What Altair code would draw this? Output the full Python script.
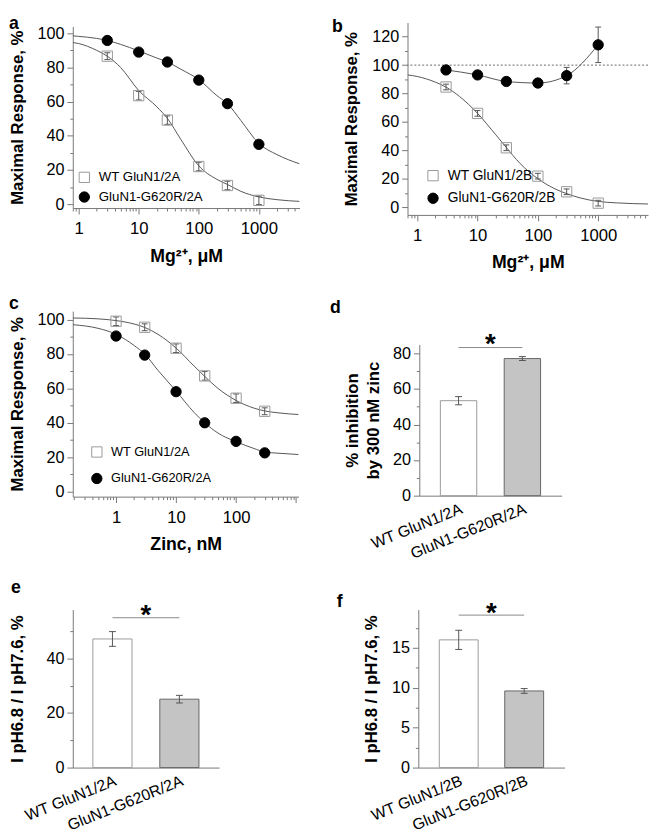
import altair as alt
import pandas as pd

FONT = "Liberation Sans"
AXIS_C = "#777777"
LINE_C = "#555555"

# ---------------- panel a : Mg2+, GluN1/2A ----------------
a_conc = [3, 10, 30, 100, 300, 1000]
a_wt = [86.6, 63.5, 49.2, 22.0, 10.9, 2.2]
a_wt_err = [2.0, 2.5, 2.5, 2.5, 2.5, 2.5]
a_mut = [95.8, 89.0, 83.2, 72.6, 58.8, 35.0]
a_mut_err = [1.0, 1.0, 1.0, 1.5, 1.5, 1.5]
a_fit_x = [0.8, 1, 2, 3, 5, 10, 20, 30, 50, 100, 200, 300, 500, 1000, 2000, 4750]
a_wt_fit = [94.6, 94.0, 90.0, 86.6, 80.0, 66.5, 57.0, 50.2, 38.0, 22.4, 14.5, 11.5, 7.5, 4.2, 2.6, 1.6]
a_mut_fit = [98.5, 98.2, 97.0, 95.8, 93.5, 89.7, 85.5, 83.2, 79.0, 72.9, 63.5, 58.8, 49.0, 35.5, 29.0, 23.6]
a_labels = ["WT GluN1/2A", "GluN1-G620R/2A"]

# ---------------- panel b : Mg2+, GluN1/2B ----------------
b_conc = [3, 10, 30, 100, 300, 1000]
b_wt = [84.6, 66.0, 41.8, 21.8, 10.8, 2.8]
b_wt_err = [2.0, 2.0, 2.0, 2.0, 2.0, 2.0]
b_mut = [96.6, 93.1, 88.5, 87.4, 92.6, 114.3]
b_mut_err = [1.5, 1.5, 1.5, 1.5, 5.8, 12.5]
b_fit_x = [0.69, 1, 2, 3, 5, 10, 20, 30, 50, 100, 200, 300, 500, 1000, 2000, 6700]
b_wt_fit = [93.1, 92.0, 88.0, 84.5, 78.0, 66.0, 51.0, 42.0, 31.0, 20.0, 12.5, 9.5, 6.5, 4.0, 3.0, 2.2]
b_ref = [100]
b_labels = ["WT GluN1/2B", "GluN1-G620R/2B"]

# ---------------- panel c : zinc, GluN1/2A ----------------
c_conc = [1, 3, 10, 30, 100, 300]
c_wt = [99.1, 95.6, 83.4, 67.3, 54.3, 46.7]
c_wt_err = [2.5, 2.0, 2.5, 2.5, 2.5, 2.0]
c_mut = [90.5, 79.4, 58.1, 40.0, 29.2, 22.5]
c_mut_err = [1.0, 1.0, 1.0, 1.0, 1.0, 1.0]
c_fit_x = [0.19, 0.5, 1, 2, 3, 5, 10, 20, 30, 50, 100, 200, 300, 500, 1100]
c_wt_fit = [101.0, 100.5, 99.5, 97.5, 95.5, 91.5, 83.5, 73.0, 67.0, 60.0, 53.0, 48.5, 46.9, 45.8, 44.8]
c_mut_fit = [97.1, 95.0, 91.5, 85.0, 80.0, 70.5, 58.5, 46.0, 40.0, 34.0, 29.0, 25.0, 23.0, 22.3, 21.5]
c_labels = ["WT GluN1/2A", "GluN1-G620R/2A"]

# ---------------- bar panels ----------------
d_cats = ["WT GluN1/2A", "GluN1-G620R/2A"]
d_vals = [53.4, 77.1]
d_errs = [2.3, 1.1]
d_sig = [83.3]
d_star = [80.5]

e_cats = ["WT GluN1/2A", "GluN1-G620R/2A"]
e_vals = [47.2, 25.1]
e_errs = [2.7, 1.4]
e_sig = [55.0]
e_star = [52.8]

f_cats = ["WT GluN1/2B", "GluN1-G620R/2B"]
f_vals = [16.0, 9.6]
f_errs = [1.2, 0.3]
f_sig = [19.1]
f_star = [18.3]

# ---------------- tick values ----------------
xmaj_a = [1, 10, 100, 1000]
xmin_a = [0.8, 0.9, 2, 3, 4, 5, 6, 7, 8, 9, 20, 30, 40, 50, 60, 70, 80, 90,
          200, 300, 400, 500, 600, 700, 800, 900, 2000, 3000, 4000]
xmaj_b = [1, 10, 100, 1000]
xmin_b = [0.7, 0.8, 0.9, 2, 3, 4, 5, 6, 7, 8, 9, 20, 30, 40, 50, 60, 70, 80, 90,
          200, 300, 400, 500, 600, 700, 800, 900, 2000, 3000, 4000, 5000, 6000]
xmaj_c = [1, 10, 100, 1000]
xmin_c = [0.2, 0.3, 0.4, 0.5, 0.6, 0.7, 0.8, 0.9, 2, 3, 4, 5, 6, 7, 8, 9, 20, 30, 40,
          50, 60, 70, 80, 90, 200, 300, 400, 500, 600, 700, 800, 900]
xlab_ab = [1, 10, 100, 1000]
xlab_c = [1, 10, 100]
ymaj_100 = [0, 20, 40, 60, 80, 100]
ymin_100 = [10, 30, 50, 70, 90]
ymaj_b = [0, 20, 40, 60, 80, 100, 120]
ymin_b = [10, 30, 50, 70, 90, 110]
ymaj_d = [0, 20, 40, 60, 80]
ymin_d = [10, 30, 50, 70]
ymaj_e = [0, 20, 40]
ymin_e = [10, 30, 50]
ymaj_f = [0, 5, 10, 15]
ymin_f = [2.5, 7.5, 12.5, 17.5]


def letter_title(txt, dx, dy):
    return alt.TitleParams(text=txt, anchor="start", frame="group", dx=dx, dy=dy, offset=0,
                           baseline="alphabetic", font=FONT, fontSize=18, fontWeight="bold",
                           color="black")


def y_major(values, title, title_pad=11):
    return alt.Axis(values=values, orient="left", tickSize=6, title=title, grid=False,
                    domainColor=AXIS_C, tickColor=AXIS_C,
                    labelFont=FONT, labelFontSize=16.5, labelColor="black", labelPadding=3,
                    titleFont=FONT, titleFontSize=17, titleFontWeight="bold", titleColor="black",
                    titlePadding=title_pad, titleLineHeight=22, labelOverlap=False, labelFlush=False)


def y_minor(values):
    return alt.Axis(values=values, orient="left", tickSize=3, labels=False, domain=False, title=None,
                    grid=False, tickColor=AXIS_C)


def x_major(values, labeled, title):
    return alt.Axis(values=values, orient="bottom",
                    labelExpr=f"indexof({labeled}, datum.value) >= 0 ? format(datum.value, 'd') : ''",
                    tickSize=6, title=title, grid=False, domainColor=AXIS_C, tickColor=AXIS_C,
                    labelFont=FONT, labelFontSize=17, labelColor="black", labelPadding=7,
                    titleFont=FONT, titleFontSize=18, titleFontWeight="bold", titleColor="black",
                    titlePadding=11, labelOverlap=False, labelFlush=False)


def x_minor(values):
    return alt.Axis(values=values, orient="bottom", tickSize=3, labels=False, domain=False, title=None,
                    grid=False, tickColor=AXIS_C)


def spacer():
    return alt.Chart(pd.DataFrame({"s": [0]})).mark_point(size=0, opacity=0).encode(
        x=alt.value(0), y=alt.value(0)).properties(width=1, height=1)


def curve_panel(conc, wt, wt_err, mut, mut_err, fit_x, wt_fit, mut_fit, labels,
                xdom, ydom, xmaj, xmin, xlab, ymaj, ymin, xtitle, w, h, leg_x, leg_y, leg_row,
                leg_fs, title=None, ref=None):
    n = len(conc)
    pts = pd.DataFrame({"x": conc + conc, "y": wt + mut, "err": wt_err + mut_err,
                        "series": [labels[0]] * n + [labels[1]] * n})
    pts["lo"] = pts["y"] - pts["err"]
    pts["hi"] = pts["y"] + pts["err"]
    caps = pd.concat([pts[["x", "lo"]].rename(columns={"lo": "v"}),
                      pts[["x", "hi"]].rename(columns={"hi": "v"})])
    fit_wt = pd.DataFrame({"x": fit_x, "y": wt_fit, "series": labels[0]})
    if mut_fit is None:
        fit_mut = pd.DataFrame({"x": conc, "y": mut, "series": labels[1]})
    else:
        fit_mut = pd.DataFrame({"x": fit_x, "y": mut_fit, "series": labels[1]})
    fit = pd.concat([fit_wt, fit_mut])

    xs = alt.Scale(type="log", domain=xdom, nice=False)
    ys = alt.Scale(domain=ydom, nice=False, zero=False)

    line = alt.Chart(fit).mark_line(interpolate="monotone", color=LINE_C, strokeWidth=1, clip=True).encode(
        x=alt.X("x:Q", scale=xs, axis=x_major(xmaj, xlab, xtitle)),
        y=alt.Y("y:Q", scale=ys, axis=y_major(ymaj, "Maximal Response, %")),
        detail="series:N")
    rules = alt.Chart(pts).mark_rule(color=LINE_C, strokeWidth=1).encode(
        x=alt.X("x:Q", scale=xs, axis=x_minor(xmin)),
        y=alt.Y("lo:Q", scale=ys, axis=y_minor(ymin)), y2="hi:Q")
    capm = alt.Chart(caps).mark_point(shape="M-1,0L1,0", size=36, stroke=LINE_C, strokeWidth=1,
                                      filled=False, opacity=1).encode(
        x=alt.X("x:Q", scale=xs, axis=None),
        y=alt.Y("v:Q", scale=ys, axis=None))
    leg = alt.Legend(title=None, orient="none", legendX=leg_x, legendY=leg_y, labelFont=FONT,
                     labelFontSize=leg_fs, labelColor="black", symbolSize=110, symbolStrokeWidth=1,
                     rowPadding=leg_row, labelOffset=8, padding=0, labelLimit=0)
    points = alt.Chart(pts).mark_point(size=110, strokeWidth=1, opacity=1).encode(
        x=alt.X("x:Q", scale=xs, axis=None),
        y=alt.Y("y:Q", scale=ys, axis=None),
        shape=alt.Shape("series:N", scale=alt.Scale(domain=labels, range=["square", "circle"]), legend=leg),
        fill=alt.Fill("series:N", scale=alt.Scale(domain=labels, range=["transparent", "black"]), legend=leg),
        stroke=alt.Stroke("series:N", scale=alt.Scale(domain=labels, range=["#999999", "black"]), legend=leg))
    layers = [line, rules]
    if ref is not None:
        layers.append(alt.Chart(pd.DataFrame({"r": ref})).mark_rule(
            color="#666666", strokeWidth=1, strokeDash=[2, 2]).encode(
            y=alt.Y("r:Q", scale=ys, axis=None)))
    layers += [capm, points]
    ch = alt.layer(*layers).resolve_axis(x="independent", y="independent").properties(width=w, height=h)
    if title is not None:
        ch = ch.properties(title=title)
    return ch


def bar_panel(cats, vals, errs, sig, star, ydom, ymaj, ymin, ytitle, w, h, pi, po, title_pad,
              title=None):
    df = pd.DataFrame({"cat": cats, "val": vals, "err": errs})
    df["lo"] = df["val"] - df["err"]
    df["hi"] = df["val"] + df["err"]
    caps = pd.concat([df[["cat", "lo"]].rename(columns={"lo": "v"}),
                      df[["cat", "hi"]].rename(columns={"hi": "v"})])
    sig_df = pd.DataFrame({"cat": cats, "y": sig * 2})
    star_df = pd.DataFrame({"pos": [0.5], "y": star, "t": ["*"]})

    def xs():
        return alt.Scale(type="band", domain=cats, paddingInner=pi, paddingOuter=po)

    ys = alt.Scale(domain=ydom, nice=False, zero=False)

    bars = alt.Chart(df).mark_bar(strokeWidth=1).encode(
        x=alt.X("cat:N", scale=xs(), sort=cats,
                axis=alt.Axis(title=None, orient="bottom", labelAngle=-22, ticks=False, labelFont=FONT,
                              labelFontSize=16, labelColor="black", domainColor=AXIS_C, labelPadding=5,
                              labelLimit=0, grid=False)),
        y=alt.Y("val:Q", scale=ys, axis=y_major(ymaj, ytitle, title_pad)),
        fill=alt.condition(alt.datum.cat == cats[0], alt.value("white"), alt.value("#c4c4c4")),
        stroke=alt.condition(alt.datum.cat == cats[0], alt.value("#9a9a9a"), alt.value("#666666")))
    rules = alt.Chart(df).mark_rule(color=LINE_C, strokeWidth=1).encode(
        x=alt.X("cat:N", scale=xs(), sort=cats, axis=None),
        y=alt.Y("lo:Q", scale=ys, axis=y_minor(ymin)), y2="hi:Q")
    capm = alt.Chart(caps).mark_point(shape="M-1,0L1,0", size=49, stroke=LINE_C, strokeWidth=1,
                                      filled=False, opacity=1).encode(
        x=alt.X("cat:N", scale=xs(), sort=cats, axis=None),
        y=alt.Y("v:Q", scale=ys, axis=None))
    sig_line = alt.Chart(sig_df).mark_line(color="#8a8a8a", strokeWidth=1).encode(
        x=alt.X("cat:N", scale=xs(), sort=cats, axis=None),
        y=alt.Y("y:Q", scale=ys, axis=None))
    star_t = alt.Chart(star_df).mark_text(font=FONT, fontSize=28, fontWeight="bold", baseline="alphabetic",
                                          align="center", color="black").encode(
        x=alt.X("pos:Q", scale=alt.Scale(domain=[0, 1]), axis=None),
        y=alt.Y("y:Q", scale=ys, axis=None), text="t:N")
    ch = alt.layer(bars, rules, capm, sig_line, star_t).resolve_scale(x="independent").resolve_axis(
        y="independent").properties(width=w, height=h)
    if title is not None:
        ch = ch.properties(title=title)
    return ch


pa = curve_panel(a_conc, a_wt, a_wt_err, a_mut, a_mut_err, a_fit_x, a_wt_fit, a_mut_fit, a_labels,
                 [0.8, 4750], [-2.3, 104], xmaj_a, xmin_a, xlab_ab, ymaj_100, ymin_100, "Mg²⁺, μM",
                 231, 185, 5, 147, 5, 13.5)
pb = curve_panel(b_conc, b_wt, b_wt_err, b_mut, b_mut_err, b_fit_x, b_wt_fit, None, b_labels,
                 [0.69, 6700], [-5.5, 130], xmaj_b, xmin_b, xlab_ab, ymaj_b, ymin_b, "Mg²⁺, μM",
                 245, 196, 19, 149, 7, 14, title=letter_title("b", -77, 28), ref=b_ref)
pc = curve_panel(c_conc, c_wt, c_wt_err, c_mut, c_mut_err, c_fit_x, c_wt_fit, c_mut_fit, c_labels,
                 [0.19, 1100], [-3, 105], xmaj_c, xmin_c, xlab_c, ymaj_100, ymin_100, "Zinc, nM",
                 230, 189, 18, 137, 12, 13, title=letter_title("c", -65, 16))
pd_ = bar_panel(d_cats, d_vals, d_errs, d_sig, d_star, [0, 85], ymaj_d, ymin_d,
                ["% inhibition", "by 300 nM zinc"], 145, 154, 0.43, 0.33, 10)
pe = bar_panel(e_cats, e_vals, e_errs, e_sig, e_star, [0, 58], ymaj_e, ymin_e,
               "I pH6.8 / I pH7.6, %", 149, 161, 0.415, 0.3, 20, title=letter_title("e", -63, 9))
pf = bar_panel(f_cats, f_vals, f_errs, f_sig, f_star, [0, 19.8], ymaj_f, ymin_f,
               "I pH6.8 / I pH7.6, %", 149, 161, 0.406, 0.32, 11, title=letter_title("f", -83, 25))

indep = dict(shape="independent", fill="independent", stroke="independent")

a_wrap = alt.vconcat(spacer(), pa, spacing=1, title=letter_title("a", -65, 25)).resolve_scale(**indep)
d_wrap = alt.vconcat(spacer(), pd_, spacing=19)

row1 = alt.hconcat(a_wrap, pb, spacing=33).resolve_scale(**indep)
row2 = alt.hconcat(pc, d_wrap, spacing=45, title=letter_title("d", 262, 36)).resolve_scale(**indep)
row3 = alt.hconcat(pe, pf, spacing=120)
lower = alt.vconcat(row2, row3, spacing=18).resolve_scale(**indep)

chart = alt.vconcat(row1, lower, spacing=24).resolve_scale(**indep).properties(
    padding=0
).configure_view(stroke=None).configure_axis(grid=False)

chart.save("out.html", embed_options={"renderer": "svg", "actions": False})
